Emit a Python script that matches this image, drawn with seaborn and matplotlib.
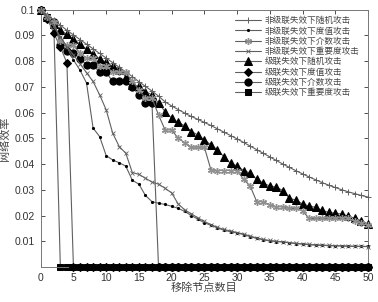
import matplotlib
matplotlib.use('Agg')
import matplotlib.pyplot as plt
import seaborn as sns
import pandas as pd

# numero de nodos eliminados
removed = list(range(51))

# non-cascade failure
nc_random = [0.100, 0.098, 0.096, 0.094, 0.092, 0.0902, 0.0884, 0.0866, 0.0848, 0.083,
             0.0812, 0.0794, 0.0776, 0.0758, 0.074, 0.072, 0.0702, 0.0684, 0.0664, 0.0642,
             0.0626, 0.0612, 0.0598, 0.0585, 0.0574, 0.0562, 0.055, 0.0537, 0.0524, 0.0511,
             0.0498, 0.0484, 0.047, 0.0456, 0.0442, 0.0428, 0.0414, 0.040, 0.0387, 0.0374,
             0.0362, 0.035, 0.0339, 0.0328, 0.0318, 0.0309, 0.030, 0.0292, 0.0285, 0.0278, 0.0272]
nc_degree = [0.100, 0.097, 0.0935, 0.0895, 0.0855, 0.0805, 0.0765, 0.0715, 0.054, 0.0507,
             0.0433, 0.0416, 0.0405, 0.0392, 0.0337, 0.0322, 0.0278, 0.0254, 0.0248, 0.0243,
             0.0236, 0.0228, 0.0216, 0.020, 0.0186, 0.0172, 0.0162, 0.0152, 0.0143, 0.0137,
             0.0132, 0.0126, 0.0118, 0.0111, 0.0106, 0.0101, 0.0099, 0.0097, 0.0094, 0.0091,
             0.0089, 0.0087, 0.0085, 0.0084, 0.0083, 0.0082, 0.0082, 0.0081, 0.0081, 0.008, 0.008]
nc_between = [0.100, 0.097, 0.0952, 0.088, 0.0861, 0.0861, 0.0832, 0.0812, 0.0812, 0.0782,
              0.0782, 0.0756, 0.0756, 0.0756, 0.0721, 0.0689, 0.0656, 0.0656, 0.0591, 0.0533,
              0.0533, 0.050, 0.0483, 0.0466, 0.0466, 0.0466, 0.0378, 0.0375, 0.0375, 0.0375,
              0.0375, 0.0341, 0.0315, 0.0254, 0.0254, 0.0241, 0.0234, 0.0234, 0.0228, 0.0228,
              0.0219, 0.0189, 0.0189, 0.0189, 0.0189, 0.0189, 0.0189, 0.0189, 0.018, 0.0172, 0.0163]
nc_importance = [0.100, 0.097, 0.0935, 0.0895, 0.0855, 0.0825, 0.079, 0.0755, 0.0721, 0.0669,
                 0.0611, 0.052, 0.0468, 0.0442, 0.0367, 0.036, 0.0345, 0.033, 0.0322, 0.0306,
                 0.0288, 0.0245, 0.0222, 0.0207, 0.0191, 0.0177, 0.0165, 0.0154, 0.0146, 0.014,
                 0.0134, 0.0128, 0.012, 0.0113, 0.0107, 0.0103, 0.010, 0.0098, 0.0095, 0.0092,
                 0.009, 0.0088, 0.0086, 0.0085, 0.0084, 0.0083, 0.0082, 0.0081, 0.008, 0.008, 0.0079]

# cascade failure
c_random = [0.100, 0.097, 0.0945, 0.0922, 0.0904, 0.0885, 0.0866, 0.0847, 0.0828, 0.081,
            0.0795, 0.078, 0.0767, 0.074, 0.0708, 0.0702, 0.0682, 0.0669, 0.0637, 0.0604,
            0.0579, 0.0562, 0.0549, 0.0526, 0.0514, 0.0494, 0.0475, 0.0455, 0.0428, 0.0403,
            0.0393, 0.0375, 0.0365, 0.0341, 0.0326, 0.0315, 0.031, 0.0297, 0.0267, 0.026,
            0.0245, 0.0237, 0.0232, 0.022, 0.0212, 0.0209, 0.0206, 0.0198, 0.0189, 0.018, 0.0167]
c_degree = [0.100, 0.0965, 0.0909, 0.0855, 0.0793] + [0.0] * 46
c_between = [0.100, 0.0968, 0.0952, 0.0864, 0.0838, 0.0832, 0.081, 0.0786, 0.0786, 0.0756,
             0.0756, 0.0721, 0.0721, 0.0721, 0.0699, 0.0669, 0.0637, 0.0637] + [0.0] * 33
c_importance = [0.100, 0.097, 0.094] + [0.0] * 48

labels = ['非级联失效下随机攻击', '非级联失效下度值攻击', '非级联失效下介数攻击',
          '非级联失效下重要度攻击', '级联失效下随机攻击', '级联失效下度值攻击',
          '级联失效下介数攻击', '级联失效下重要度攻击']
x_ticks = [0, 5, 10, 15, 20, 25, 30, 35, 40, 45, 50]
y_ticks = [0.01, 0.02, 0.03, 0.04, 0.05, 0.06, 0.07, 0.08, 0.09, 0.1]
y_tick_labels = ['0.01', '0.02', '0.03', '0.04', '0.05', '0.06', '0.07', '0.08', '0.09', '0.1']

sns.set_style('ticks')
plt.rcParams['font.family'] = ['Liberation Sans', 'Noto Sans CJK SC']
plt.rcParams['xtick.direction'] = 'in'
plt.rcParams['ytick.direction'] = 'in'

series = [nc_random, nc_degree, nc_between, nc_importance,
          c_random, c_degree, c_between, c_importance]
line_grey = '#606060'
styles = [
    dict(marker='+', markersize=5, markeredgecolor=line_grey, markeredgewidth=0.7, zorder=6),
    dict(marker='.', markersize=3, markeredgecolor='black', markerfacecolor='black', zorder=6),
    dict(marker=(6, 2, 0), markersize=5, markeredgecolor='#909090', markeredgewidth=1.0, zorder=6),
    dict(marker='x', markersize=3.5, markeredgecolor=line_grey, markeredgewidth=0.6, zorder=6),
    dict(marker='^', markersize=6, markeredgecolor='black', markerfacecolor='black', zorder=3),
    dict(marker='D', markersize=4.2, markeredgecolor='black', markerfacecolor='black', zorder=5),
    dict(marker='o', markersize=5.2, markeredgecolor='black', markerfacecolor='black', zorder=4),
    dict(marker='s', markersize=4.2, markeredgecolor='black', markerfacecolor='black', zorder=2),
]

fig = plt.figure(figsize=(3.78, 3.02), dpi=100)
ax = fig.add_axes([0.1077, 0.1159, 0.8658, 0.8520])

for vals, lab, st in zip(series, labels, styles):
    df = pd.DataFrame({'n': removed, 'eff': vals})
    sns.lineplot(data=df, x='n', y='eff', ax=ax, color=line_grey, linewidth=0.8,
                 label=lab, clip_on=False, **st)

ax.set_xlim(0, 50)
ax.set_ylim(0, 0.1)
ax.set_xticks(x_ticks)
ax.set_yticks(y_ticks)
ax.set_yticklabels(y_tick_labels)
ax.tick_params(labelsize=7.5, colors='#333333', length=3, width=0.6,
               top=True, right=True, pad=4)
for sp in ax.spines.values():
    sp.set_color('#777777')
    sp.set_linewidth(0.7)

ax.set_xlabel('移除节点数目', fontsize=8, color='#444444', labelpad=0)
ax.set_ylabel('网络效率', fontsize=8, color='#444444', labelpad=4)

leg = ax.legend(loc='upper right', bbox_to_anchor=(0.99, 0.995), frameon=False,
                fontsize=6.2, handlelength=3.0, handletextpad=0.4, labelspacing=0.15,
                borderaxespad=0.2)
for t in leg.get_texts():
    t.set_color('#444444')

fig.savefig('out.png', dpi=100)
